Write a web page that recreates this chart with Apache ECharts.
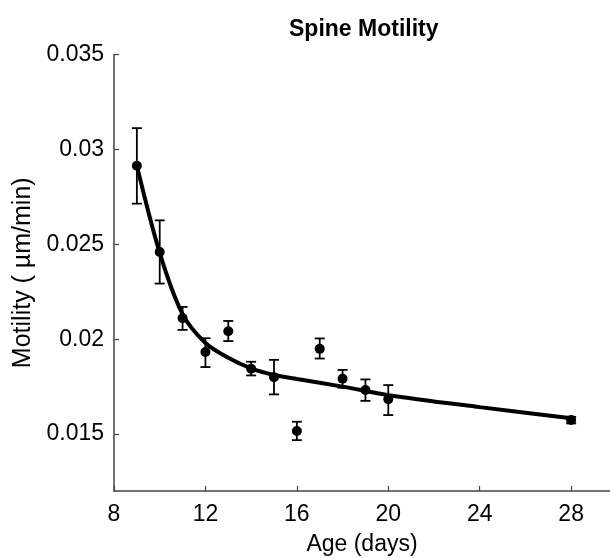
<!DOCTYPE html>
<html><head><meta charset="utf-8">
<script src="https://cdn.jsdelivr.net/npm/echarts@6/dist/echarts.min.js"></script>
<style>html,body{margin:0;padding:0;background:#fff}#c{width:610px;height:558px}</style>
</head><body><div id="c"></div>
<script>
const days     = [9, 10, 11, 12, 13, 14, 15, 16, 17, 18, 19, 20, 28];
const meanVals = [0.02914, 0.02459, 0.02111, 0.01932, 0.02042, 0.01844, 0.01800, 0.01516, 0.01949, 0.01791, 0.01732, 0.01683, 0.01574];
const errHigh  = [0.03112, 0.02626, 0.02170, 0.02005, 0.02096, 0.01881, 0.01891, 0.01565, 0.02004, 0.01838, 0.01788, 0.01758, 0.01591];
const errLow   = [0.02714, 0.02293, 0.02049, 0.01853, 0.01990, 0.01809, 0.01709, 0.01468, 0.01898, 0.01744, 0.01675, 0.01600, 0.01556];
// Fitted curve
const fitDays  = [9, 10, 11, 12, 13, 14, 15, 16, 18, 20, 24, 28];
const fitVals  = [0.02914, 0.02455, 0.02132, 0.01980, 0.01902, 0.01846, 0.01811, 0.01790, 0.01750, 0.01705, 0.01642, 0.01583];
// Tick labels
const xTicks = [8, 12, 16, 20, 24, 28];
const yTicks = [0.015, 0.02, 0.025, 0.03, 0.035];

const FONT = "'Liberation Sans', Arial, Helvetica, sans-serif";
const chart = echarts.init(document.getElementById('c'), null, {renderer: 'canvas'});

const pointData = days.map((d, i) => [d, meanVals[i]]);
const errData = days.map((d, i) => [d, errLow[i], errHigh[i]]);
const fitData = fitDays.map((d, i) => [d, fitVals[i]]);

chart.setOption({
  animation: false,
  backgroundColor: '#fff',
  title: {
    text: 'Spine Motility',
    left: 284, top: 13,
    textStyle: {fontFamily: FONT, fontSize: 23, fontWeight: 'bold', color: '#000'}
  },
  grid: {left: 114, right: 0, top: 54.5, bottom: 67, containLabel: false, outerBoundsMode: 'none'},
  xAxis: {
    type: 'value', min: 8, max: 29.7,
    name: 'Age (days)', nameLocation: 'middle', nameGap: 42,
    nameTextStyle: {fontFamily: FONT, fontSize: 23, color: '#000'},
    axisLine: {show: true, onZero: false, lineStyle: {color: '#444', width: 1.5}},
    axisTick: {show: true, inside: true, length: 5, customValues: xTicks, lineStyle: {color: '#444', width: 1.2}},
    axisLabel: {customValues: xTicks, fontFamily: FONT, fontSize: 23, color: '#000', margin: 12},
    splitLine: {show: false}
  },
  yAxis: {
    type: 'value', min: 0.012, max: 0.035,
    name: 'Motility ( µm/min)', nameLocation: 'middle', nameGap: 74, nameRotate: 90,
    nameTextStyle: {fontFamily: FONT, fontSize: 25, color: '#000'},
    axisLine: {show: true, onZero: false, lineStyle: {color: '#444', width: 1.5}},
    axisTick: {show: true, inside: true, length: 5, customValues: yTicks, lineStyle: {color: '#444', width: 1.2}},
    axisLabel: {customValues: yTicks, fontFamily: FONT, fontSize: 23, color: '#000', margin: 10},
    splitLine: {show: false}
  },
  series: [
    {
      type: 'line', data: fitData, smooth: 0.3,
      showSymbol: false, symbol: 'none',
      lineStyle: {color: '#000', width: 4}, z: 2
    },
    {
      type: 'custom', data: errData, z: 3,
      encode: {x: 0, y: [1, 2]},
      renderItem: function (params, api) {
        const x = api.value(0);
        const lo = api.coord([x, api.value(1)]);
        const hi = api.coord([x, api.value(2)]);
        const hw = 5;
        const style = {stroke: '#000', lineWidth: 1.8};
        return {type: 'group', children: [
          {type: 'line', shape: {x1: lo[0], y1: lo[1], x2: hi[0], y2: hi[1]}, style: style},
          {type: 'line', shape: {x1: lo[0] - hw, y1: lo[1], x2: lo[0] + hw, y2: lo[1]}, style: style},
          {type: 'line', shape: {x1: hi[0] - hw, y1: hi[1], x2: hi[0] + hw, y2: hi[1]}, style: style}
        ]};
      }
    },
    {
      type: 'scatter', data: pointData, symbol: 'circle', symbolSize: 10,
      itemStyle: {color: '#000', opacity: 1}, z: 4
    }
  ]
});
</script>
</body></html>
